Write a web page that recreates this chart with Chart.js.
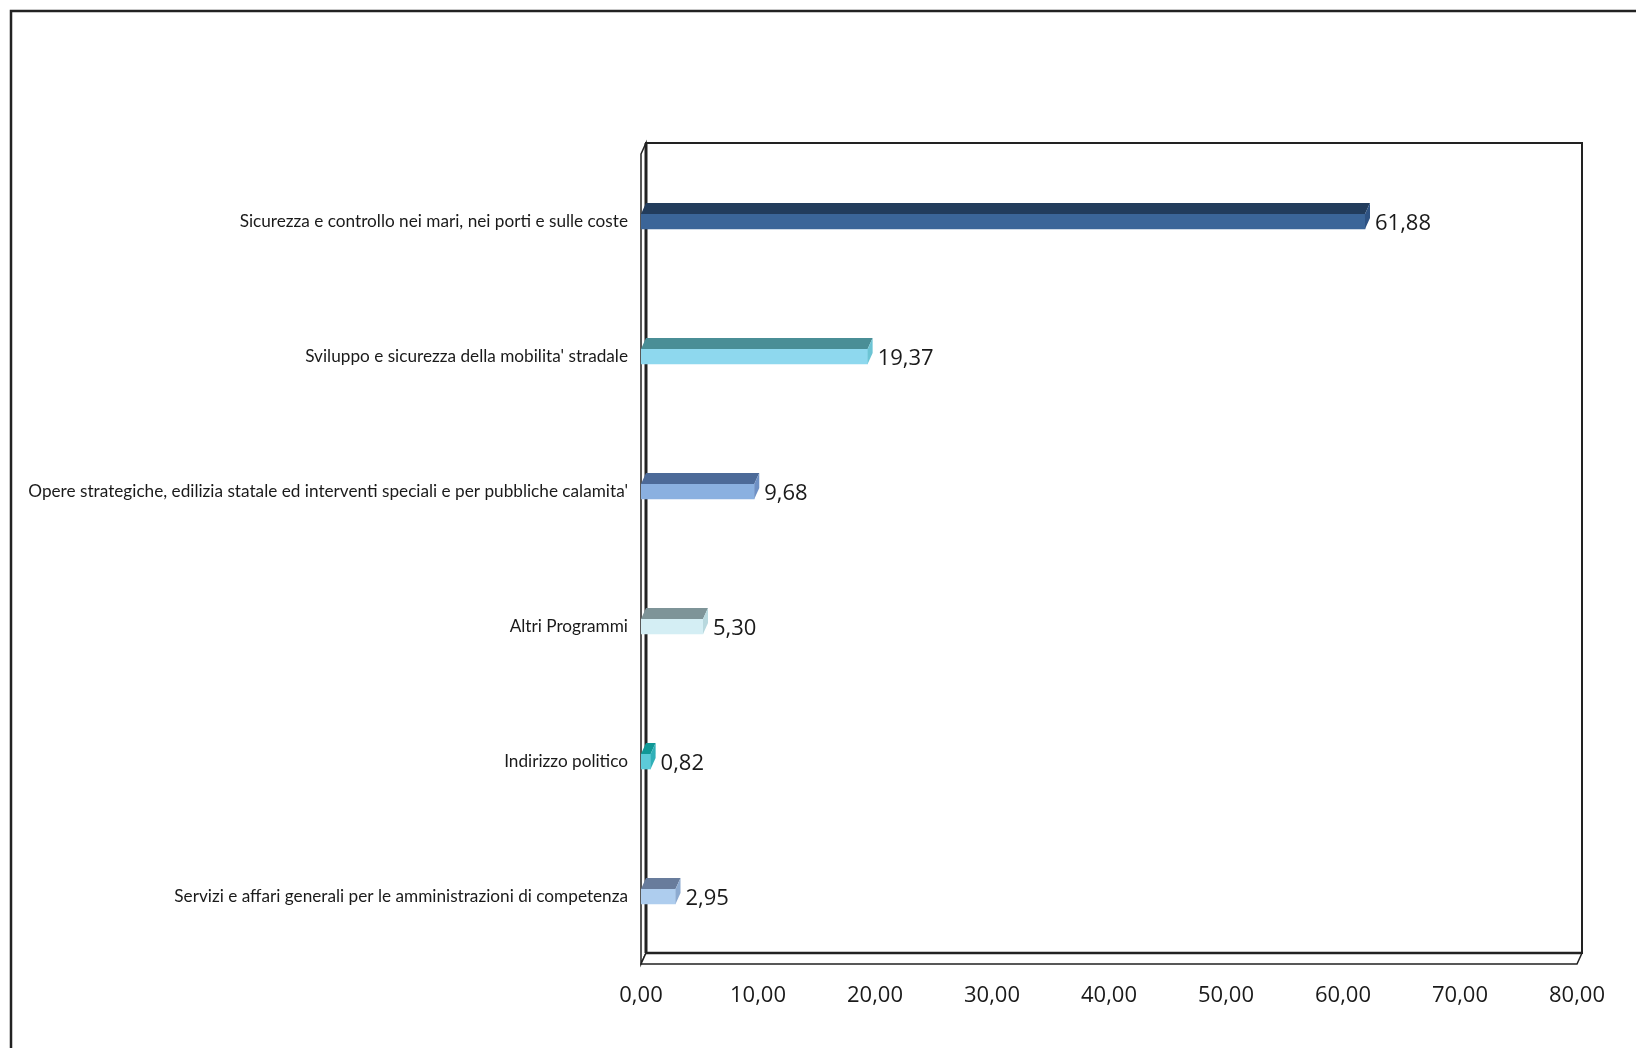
<!DOCTYPE html>
<html>
<head>
<meta charset="utf-8">
<title>Programmi</title>
<script src="https://cdn.jsdelivr.net/npm/chart.js@4/dist/chart.umd.min.js"></script>
<style>
  html, body { margin: 0; padding: 0; background: #fff; }
  #wrap { width: 1636px; height: 1048px; position: relative; }
</style>
</head>
<body>
<div id="wrap"><canvas id="chart" width="1636" height="1048"></canvas></div>
<script>
const categories = [
    "Sicurezza e controllo nei mari, nei porti e sulle coste",
    "Sviluppo e sicurezza della mobilita' stradale",
    "Opere strategiche, edilizia statale ed interventi speciali e per pubbliche calamita'",
    "Altri Programmi",
    "Indirizzo politico",
    "Servizi e affari generali per le amministrazioni di competenza"
];
const values = [61.88, 19.37, 9.68, 5.30, 0.82, 2.95];
const xTicks = [0, 10, 20, 30, 40, 50, 60, 70, 80];

const frontColors = ["#3b6598", "#8ed8ee", "#8ab0e0", "#d4eef4", "#5ccbd8", "#aecdee"];
const topColors   = ["#223c5c", "#4a8e96", "#4c6a98", "#7e9498", "#109896", "#687c9c"];
const sideColors  = ["#2e5282", "#6cc4d4", "#6e90c4", "#b8d8de", "#30b0b8", "#8caad0"];

const DX = 5, DY = -11; // depth offset of the 3D look

function fmt(v) {
    return Number(v).toFixed(2).replace(".", ",");
}

// walls, floor and outer frame
const framePlugin = {
    id: "frame",
    beforeDatasetsDraw(chart) {
        const ctx = chart.ctx;
        const a = chart.chartArea;
        ctx.save();
        // outer frame (only left and top visible)
        ctx.strokeStyle = "#222";
        ctx.lineWidth = 2.5;
        ctx.beginPath();
        ctx.moveTo(11, 1060);
        ctx.lineTo(11, 11);
        ctx.lineTo(1650, 11);
        ctx.stroke();

        // back wall
        ctx.lineWidth = 2;
        ctx.strokeStyle = "#222";
        ctx.strokeRect(a.left + DX, a.top + DY, a.right - a.left, a.bottom - a.top);

        // left side wall
        ctx.fillStyle = "#fff";
        ctx.lineWidth = 1.5;
        ctx.beginPath();
        ctx.moveTo(a.left, a.top);
        ctx.lineTo(a.left + DX, a.top + DY);
        ctx.lineTo(a.left + DX, a.bottom + DY);
        ctx.lineTo(a.left, a.bottom);
        ctx.closePath();
        ctx.fill();
        ctx.stroke();
        ctx.lineWidth = 3;
        ctx.beginPath();
        ctx.moveTo(a.left + DX, a.top + DY);
        ctx.lineTo(a.left + DX, a.bottom + DY);
        ctx.stroke();

        // floor
        ctx.lineWidth = 1.5;
        ctx.beginPath();
        ctx.moveTo(a.left, a.bottom);
        ctx.lineTo(a.left + DX, a.bottom + DY);
        ctx.lineTo(a.right + DX, a.bottom + DY);
        ctx.lineTo(a.right, a.bottom);
        ctx.closePath();
        ctx.fill();
        ctx.stroke();
        ctx.lineWidth = 2.5;
        ctx.beginPath();
        ctx.moveTo(a.left + DX, a.bottom + DY);
        ctx.lineTo(a.right + DX, a.bottom + DY);
        ctx.stroke();
        ctx.restore();
    },
    afterDatasetsDraw(chart) {
        const ctx = chart.ctx;
        const meta = chart.getDatasetMeta(0);
        ctx.save();
        meta.data.forEach((bar, i) => {
            const x0 = bar.base, x1 = bar.x;
            const top = bar.y - bar.height / 2, bottom = bar.y + bar.height / 2;
            // top face
            ctx.fillStyle = topColors[i];
            ctx.beginPath();
            ctx.moveTo(x0, top);
            ctx.lineTo(x0 + DX, top + DY);
            ctx.lineTo(x1 + DX, top + DY);
            ctx.lineTo(x1, top);
            ctx.closePath();
            ctx.fill();
            // side face
            ctx.fillStyle = sideColors[i];
            ctx.beginPath();
            ctx.moveTo(x1, top);
            ctx.lineTo(x1 + DX, top + DY);
            ctx.lineTo(x1 + DX, bottom + DY);
            ctx.lineTo(x1, bottom);
            ctx.closePath();
            ctx.fill();
            // value label
            ctx.fillStyle = "#1a1a1a";
            ctx.font = "22px 'Open Sans'";
            ctx.textAlign = "left";
            ctx.textBaseline = "middle";
            ctx.fillText(fmt(values[i]), x1 + 10, bar.y + 2);
        });
        ctx.restore();
    }
};

new Chart(document.getElementById("chart").getContext("2d"), {
    type: "bar",
    data: {
        labels: categories,
        datasets: [{
            data: values,
            backgroundColor: frontColors,
            borderWidth: 0,
            barThickness: 15
        }]
    },
    options: {
        indexAxis: "y",
        responsive: false,
        animation: false,
        layout: { padding: { top: 154, right: 59, left: 0, bottom: 0 } },
        plugins: {
            legend: { display: false },
            tooltip: { enabled: false }
        },
        scales: {
            x: {
                min: 0,
                max: 80,
                afterBuildTicks: (scale) => { scale.ticks = xTicks.map(v => ({ value: v })); },
                afterFit: (scale) => { scale.height = 84; },
                grid: { display: false, drawTicks: false },
                border: { display: false },
                ticks: {
                    padding: 19,
                    color: "#1a1a1a",
                    font: { family: "'Open Sans'", size: 22 },
                    callback: (v) => fmt(v)
                }
            },
            y: {
                afterFit: (scale) => { scale.width = 641; },
                grid: { display: false, drawTicks: false },
                border: { display: false },
                ticks: {
                    padding: 13,
                    color: "#1a1a1a",
                    font: { family: "Lato", size: 17.2 }
                }
            }
        }
    },
    plugins: [framePlugin]
});
</script>
</body>
</html>
